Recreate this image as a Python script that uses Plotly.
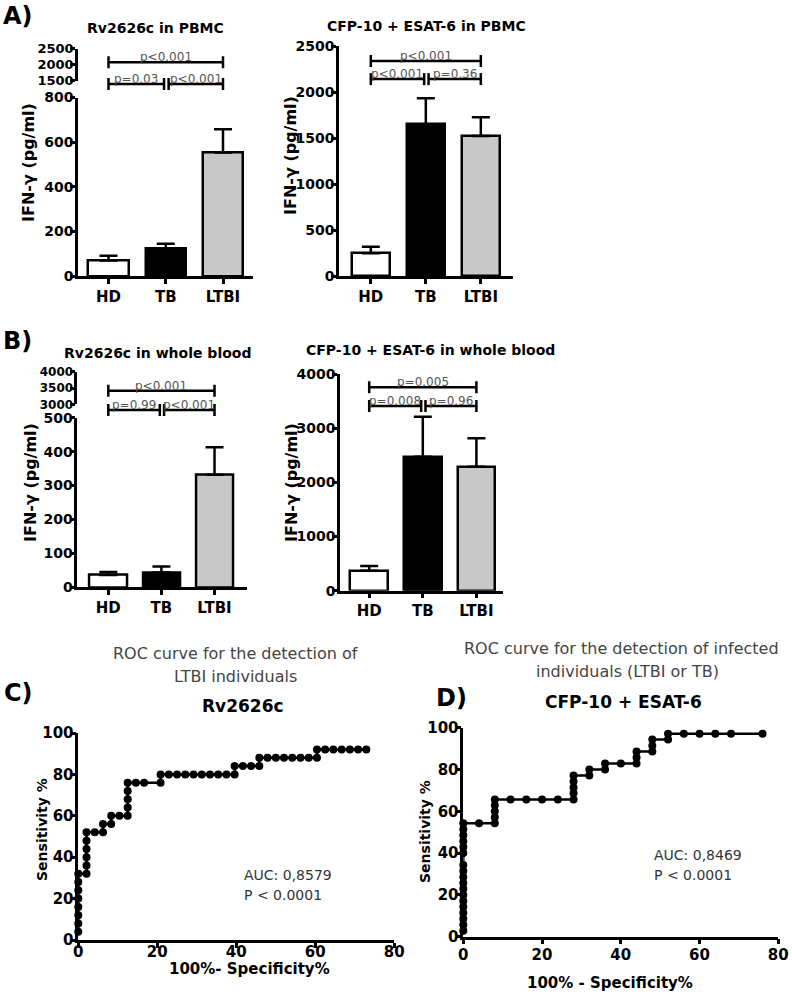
import plotly.graph_objects as go

W, H = 792, 995

# ---------------- data ----------------
GROUPS = ["HD", "TB", "LTBI"]
BAR_COLORS = ["white", "black", "#c8c8c8"]

rv_pbmc_mean = [70, 122, 553]
rv_pbmc_sem = [21, 22, 105]
cfp_pbmc_mean = [246, 1649, 1522]
cfp_pbmc_sem = [73, 282, 203]
rv_wb_mean = [36, 44, 332]
rv_wb_sem = [9, 17, 81]
cfp_wb_mean = [369, 2474, 2289]
cfp_wb_sem = [86, 738, 523]

# significance brackets: [HD-LTBI, HD-TB, TB-LTBI]
rv_pbmc_p_labels = ["p<0.001", "p=0.03", "p<0.001"]
rv_pbmc_p_levels = [2070, 1390, 1390]
cfp_pbmc_p_labels = ["p<0.001", "p<0.001", "p=0.36"]
cfp_pbmc_p_levels = [2337, 2140, 2140]
rv_wb_p_labels = ["p<0.001", "p=0.99", "p<0.001"]
rv_wb_p_levels = [3417, 2825, 2825]
cfp_wb_p_labels = ["p=0.005", "p=0.008", "p=0.96"]
cfp_wb_p_levels = [3754, 3409, 3409]

# ROC C (Rv2626c, LTBI detection)
roc_c_fpr = [0, 0, 0, 0, 0, 0, 0, 0,
             2.08, 2.08, 2.08, 2.08, 2.08, 2.08,
             4.17, 6.25, 6.25, 8.33, 8.33, 10.42,
             12.5, 12.5, 12.5, 12.5, 12.5, 14.58, 16.67,
             20.83, 20.83, 22.92, 25.0, 27.08, 29.17, 31.25, 33.33, 35.42, 37.5,
             39.58, 39.58, 41.67, 43.75, 45.83, 45.83,
             47.92, 50.0, 52.08, 54.17, 56.25, 58.33,
             60.42, 60.42, 62.5, 64.58, 66.67, 68.75, 70.83, 72.92]
roc_c_sens = [4, 8, 12, 16, 20, 24, 28, 32,
              32, 36, 40, 44, 48, 52,
              52, 52, 56, 56, 60, 60,
              60, 64, 68, 72, 76, 76, 76,
              76, 80, 80, 80, 80, 80, 80, 80, 80, 80,
              80, 84, 84, 84, 84, 88,
              88, 88, 88, 88, 88, 88,
              88, 92, 92, 92, 92, 92, 92, 92]

# ROC D (CFP-10 + ESAT-6, infected detection)
roc_d_fpr = [0, 0, 0, 0, 0, 0, 0, 0, 0, 0, 0, 0, 0, 0, 0, 0, 0, 0,
             4, 8, 8, 8, 8, 8, 12, 16, 20, 24,
             28, 28, 28, 28, 28, 32, 32, 36, 36, 40,
             44, 44, 44, 48, 48, 48, 52, 52, 56, 60, 64, 68, 76]
roc_d_sens = [2.9, 5.7, 8.6, 11.4, 14.3, 17.1, 20.0, 22.9, 25.7, 28.6, 31.4, 34.3,
              40.0, 42.9, 45.7, 48.6, 51.4, 54.3,
              54.3, 54.3, 57.1, 60.0, 62.9, 65.7, 65.7, 65.7, 65.7, 65.7,
              65.7, 68.6, 71.4, 74.3, 77.1, 77.1, 80.0, 80.0, 82.9, 82.9,
              82.9, 85.7, 88.6, 88.6, 91.4, 94.3, 94.3, 97.1, 97.1, 97.1, 97.1, 97.1, 97.1]

# ---------------- helpers ----------------
def fx(px):
    return px / W


def fy(py):
    return 1 - py / H


FONT = "DejaVu Sans"

fig = go.Figure()
layout = dict(width=W, height=H,
              margin=dict(l=0, r=0, t=0, b=0, pad=0, autoexpand=False),
              paper_bgcolor="white", plot_bgcolor="rgba(0,0,0,0)",
              showlegend=False, bargap=0)
annotations = []


def axis_style(size=14, standoff=0):
    return dict(showline=True, linecolor="black", linewidth=2.5, ticks="outside",
                ticklen=5, tickwidth=2.5, tickcolor="black", showgrid=False,
                zeroline=False, fixedrange=True, automargin=False,
                ticklabelstandoff=standoff,
                tickfont=dict(family=FONT, size=size, color="black", weight="bold"))


def add_bars(xname, yname, means, sems):
    fig.add_trace(go.Bar(
        x=[0, 1, 2], y=means, width=0.7,
        marker=dict(color=BAR_COLORS, line=dict(color="black", width=2.5)),
        error_y=dict(type="data", array=sems, arrayminus=[0, 0, 0], symmetric=False,
                     color="black", thickness=2.5, width=9),
        xaxis=xname, yaxis=yname, hoverinfo="skip"))


def add_brackets(xname, yname, levels, labels, units_per_px):
    pairs = [(0.0, 2.0), (0.0, 0.97), (1.05, 2.0)]
    tick = 6 * units_per_px
    xs, ys = [], []
    for (x0, x1), lvl, lab in zip(pairs, levels, labels):
        xs += [x0, x0, None, x0, x1, None, x1, x1, None]
        ys += [lvl - tick, lvl + tick, None, lvl, lvl, None, lvl - tick, lvl + tick, None]
        annotations.append(dict(x=(x0 + x1) / 2, y=lvl, xref=xname, yref=yname,
                                text=lab, showarrow=False, yanchor="bottom", yshift=-4,
                                font=dict(family=FONT, size=12, color="#555")))
    fig.add_trace(go.Scatter(x=xs, y=ys, mode="lines",
                             line=dict(color="black", width=2.5),
                             xaxis=xname, yaxis=yname, hoverinfo="skip"))


def text(px, py, s, size, bold=False, color="black", xanchor="center"):
    annotations.append(dict(x=fx(px), y=fy(py), xref="paper", yref="paper", text=s,
                            showarrow=False, xanchor=xanchor, yanchor="middle",
                            font=dict(family=FONT, size=size, color=color,
                                      weight="bold" if bold else "normal")))


def vtext(px, py, s, size):
    annotations.append(dict(x=fx(px), y=fy(py), xref="paper", yref="paper", text=s,
                            showarrow=False, textangle=-90, xanchor="center",
                            yanchor="middle",
                            font=dict(family=FONT, size=size, color="black", weight="bold")))


def ann_axis(base_dom_px, base_range, dom_px):
    # invisible axis with same scale as a visible one, spanning a larger area
    (b0, b1), (r0, r1) = base_dom_px, base_range
    upp = (r1 - r0) / (b0 - b1)
    lo = r0 - (dom_px[0] - b0) * upp
    hi = r0 + (b0 - dom_px[1]) * upp
    return [lo, hi], upp


cat_ticks = dict(tickmode="array", tickvals=[0, 1, 2], ticktext=GROUPS)
YS = -6

# ---------- Panel A left : Rv2626c in PBMC (broken axis) ----------
layout["xaxis"] = dict(domain=[fx(78), fx(253)], range=[-0.533, 2.524], anchor="y",
                       **cat_ticks, **axis_style(15))
layout["yaxis"] = dict(domain=[fy(276), fy(97.5)], range=[0, 800], anchor="x",
                       tickvals=[0, 200, 400, 600, 800], **axis_style(14, YS))
layout["yaxis2"] = dict(domain=[fy(80.5), fy(48.5)], range=[1500, 2500], anchor="x",
                        tickvals=[1500, 2000, 2500], **axis_style(13, YS))
r3, upp3 = ann_axis((80.5, 48.5), (1500, 2500), (100, 35))
layout["yaxis3"] = dict(domain=[fy(100), fy(35)], range=r3, anchor="x", visible=False)
add_bars("x", "y", rv_pbmc_mean, rv_pbmc_sem)
add_bars("x", "y2", rv_pbmc_mean, rv_pbmc_sem)
add_brackets("x", "y3", rv_pbmc_p_levels, rv_pbmc_p_labels, upp3)

# ---------- Panel A right : CFP-10 + ESAT-6 in PBMC ----------
layout["xaxis4"] = dict(domain=[fx(339), fx(513)], range=[-0.578, 2.585], anchor="y4",
                        **cat_ticks, **axis_style(15))
layout["yaxis4"] = dict(domain=[fy(276), fy(46)], range=[0, 2500], anchor="x4",
                        tickvals=[0, 500, 1000, 1500, 2000, 2500], **axis_style(14, YS))
add_bars("x4", "y4", cfp_pbmc_mean, cfp_pbmc_sem)
add_brackets("x4", "y4", cfp_pbmc_p_levels, cfp_pbmc_p_labels, 2500 / (276 - 46))

# ---------- Panel B left : Rv2626c in whole blood (broken axis) ----------
layout["xaxis5"] = dict(domain=[fx(77.3), fx(246.7)], range=[-0.584, 2.606], anchor="y5",
                        **cat_ticks, **axis_style(15))
layout["yaxis5"] = dict(domain=[fy(587.3), fy(417.7)], range=[0, 500], anchor="x5",
                        tickvals=[0, 100, 200, 300, 400, 500], **axis_style(14, YS))
layout["yaxis6"] = dict(domain=[fy(404.3), fy(371.7)], range=[3000, 4000], anchor="x5",
                        tickvals=[3000, 3500, 4000], **axis_style(12, YS))
r7, upp7 = ann_axis((404.3, 371.7), (3000, 4000), (425, 360))
layout["yaxis7"] = dict(domain=[fy(425), fy(360)], range=r7, anchor="x5", visible=False)
add_bars("x5", "y5", rv_wb_mean, rv_wb_sem)
add_bars("x5", "y6", rv_wb_mean, rv_wb_sem)
add_brackets("x5", "y7", rv_wb_p_levels, rv_wb_p_labels, upp7)

# ---------- Panel B right : CFP-10 + ESAT-6 in whole blood ----------
layout["xaxis8"] = dict(domain=[fx(340), fx(503.3)], range=[-0.545, 2.502], anchor="y8",
                        **cat_ticks, **axis_style(15))
layout["yaxis8"] = dict(domain=[fy(590.7), fy(374)], range=[0, 4000], anchor="x8",
                        tickvals=[0, 1000, 2000, 3000, 4000], **axis_style(14, YS))
add_bars("x8", "y8", cfp_wb_mean, cfp_wb_sem)
add_brackets("x8", "y8", cfp_wb_p_levels, cfp_wb_p_labels, 4000 / (590.7 - 374))

# ---------- Panel C : ROC Rv2626c ----------
layout["xaxis9"] = dict(domain=[fx(78.3), fx(394.3)], range=[0, 80], anchor="y9",
                        tickvals=[0, 20, 40, 60, 80], **axis_style(15, -9))
layout["yaxis9"] = dict(domain=[fy(940), fy(733)], range=[0, 100], anchor="x9",
                        tickvals=[0, 20, 40, 60, 80, 100], **axis_style(15, YS))
fig.add_trace(go.Scatter(x=roc_c_fpr, y=roc_c_sens, mode="lines+markers",
                         line=dict(color="black", width=2.5),
                         marker=dict(color="black", size=8), cliponaxis=False,
                         xaxis="x9", yaxis="y9", hoverinfo="skip"))

# ---------- Panel D : ROC CFP-10 + ESAT-6 ----------
layout["xaxis10"] = dict(domain=[fx(463.3), fx(778.3)], range=[0, 80], anchor="y10",
                         tickvals=[0, 20, 40, 60, 80], **axis_style(15, -2))
layout["yaxis10"] = dict(domain=[fy(936.7), fy(727.7)], range=[0, 100], anchor="x10",
                         tickvals=[0, 20, 40, 60, 80, 100], **axis_style(15, YS))
fig.add_trace(go.Scatter(x=roc_d_fpr, y=roc_d_sens, mode="lines+markers",
                         line=dict(color="black", width=2.5),
                         marker=dict(color="black", size=8), cliponaxis=False,
                         xaxis="x10", yaxis="y10", hoverinfo="skip"))

# ---------------- texts ----------------
text(18, 16, "A)", 24, bold=True)
text(17, 341, "B)", 24, bold=True)
text(18, 693, "C)", 24, bold=True)
text(451, 698, "D)", 24, bold=True)

text(155, 28, "Rv2626c in PBMC", 14, bold=True)
text(426, 26, "CFP-10 + ESAT-6 in PBMC", 14, bold=True)
text(157, 353, "Rv2626c in whole blood", 14, bold=True)
text(430, 350, "CFP-10 + ESAT-6 in whole blood", 14, bold=True)

vtext(28, 163, "IFN-γ (pg/ml)", 16)
vtext(290, 156, "IFN-γ (pg/ml)", 16)
vtext(31, 483, "IFN-γ (pg/ml)", 16)
vtext(292, 483, "IFN-γ (pg/ml)", 16)

text(235, 653, "ROC curve for the detection of", 16, color="#444")
text(236, 676, "LTBI individuals", 16, color="#444")
text(243, 706, "Rv2626c", 17, bold=True)
text(242, 875, "AUC: 0,8579", 14, color="#333", xanchor="left")
text(242, 895, "P < 0.0001", 14, color="#333", xanchor="left")
text(249, 969, "100%- Specificity%", 15, bold=True)
vtext(42, 830, "Sensitivity %", 14)

text(621, 648, "ROC curve for the detection of infected", 16, color="#444")
text(627, 671, "individuals (LTBI or TB)", 16, color="#444")
text(623, 702, "CFP-10 + ESAT-6", 17, bold=True)
text(652, 855, "AUC: 0,8469", 14, color="#333", xanchor="left")
text(652, 875, "P < 0.0001", 14, color="#333", xanchor="left")
text(610, 983, "100% - Specificity%", 15, bold=True)
vtext(425, 832, "Sensitivity %", 14)

layout["annotations"] = annotations
fig.update_layout(**layout)
fig.write_html("out.html", config={"displayModeBar": False},
               post_script="document.body.style.margin='0';document.body.style.padding='0';")
